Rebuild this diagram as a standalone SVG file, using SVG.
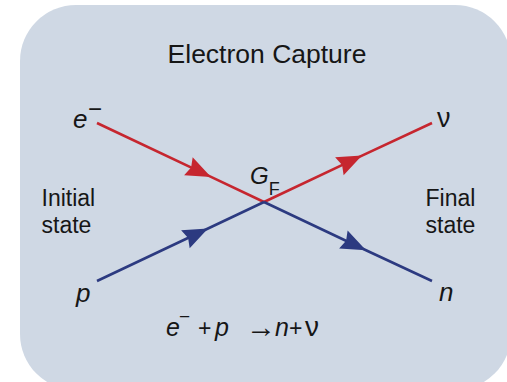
<svg xmlns="http://www.w3.org/2000/svg" width="507" height="382" viewBox="0 0 507 382">
<defs>
<style>
text{font-family:"Liberation Sans",Arial,Helvetica,sans-serif;fill:#161616}
.it{font-style:italic}
.red{stroke:#c6262f;stroke-width:2.6;fill:none}
.blue{stroke:#2c3a80;stroke-width:2.6;fill:none}
</style>
<marker id="ar" markerUnits="userSpaceOnUse" markerWidth="26" markerHeight="20" refX="25" refY="10" orient="auto" overflow="visible">
<path d="M25,10 L0,0 L3,10 L0,20 Z" fill="#c6262f"/>
</marker>
<marker id="ab" markerUnits="userSpaceOnUse" markerWidth="26" markerHeight="20" refX="25" refY="10" orient="auto" overflow="visible">
<path d="M25,10 L0,0 L3,10 L0,20 Z" fill="#2c3a80"/>
</marker>
</defs>
<rect id="panel" x="20" y="5" width="491" height="385" rx="56" ry="56" fill="#cfd8e4"/>
<text id="title" x="267" y="63" font-size="26.5" text-anchor="middle">Electron Capture</text>
<g id="connectors">
<path class="red" d="M97,123 L211,176.9 L264,202" marker-mid="url(#ar)"/>
<path class="red" d="M264,202 L362,155.6 L432,123" marker-mid="url(#ar)"/>
<path class="blue" d="M97,281 L208,228.5 L264,202" marker-mid="url(#ab)"/>
<path class="blue" d="M264,202 L366,250.2 L432,281" marker-mid="url(#ab)"/>
</g>
<g id="electron"><text x="73" y="128" font-size="26"><tspan class="it">e</tspan><tspan font-size="24" x="88" dy="-11">−</tspan></text></g>
<g id="neutrino"><text x="437" y="127" font-size="27">ν</text></g>
<g id="proton"><text class="it" x="76" y="302" font-size="26">p</text></g>
<g id="neutron"><text class="it" x="439" y="301" font-size="26">n</text></g>
<g id="vertex"><text x="250" y="184" font-size="24"><tspan class="it">G</tspan><tspan font-size="18" dy="11">F</tspan></text></g>
<g id="initial"><text x="41.5" y="206" font-size="23">Initial</text><text x="41.5" y="233" font-size="23">state</text></g>
<g id="final"><text x="425.5" y="206" font-size="23">Final</text><text x="425.5" y="233" font-size="23">state</text></g>
<g id="equation"><text y="336" font-size="25"><tspan class="it" x="166">e</tspan><tspan font-size="19" x="179" dy="-13">−</tspan><tspan font-size="23" x="198" dy="13">+</tspan><tspan class="it" x="215">p</tspan><tspan font-size="30" x="246" dy="1">→</tspan><tspan class="it" x="275" dy="-1">n</tspan><tspan font-size="23" x="289">+</tspan><tspan font-size="28" x="305">ν</tspan></text></g>
</svg>
